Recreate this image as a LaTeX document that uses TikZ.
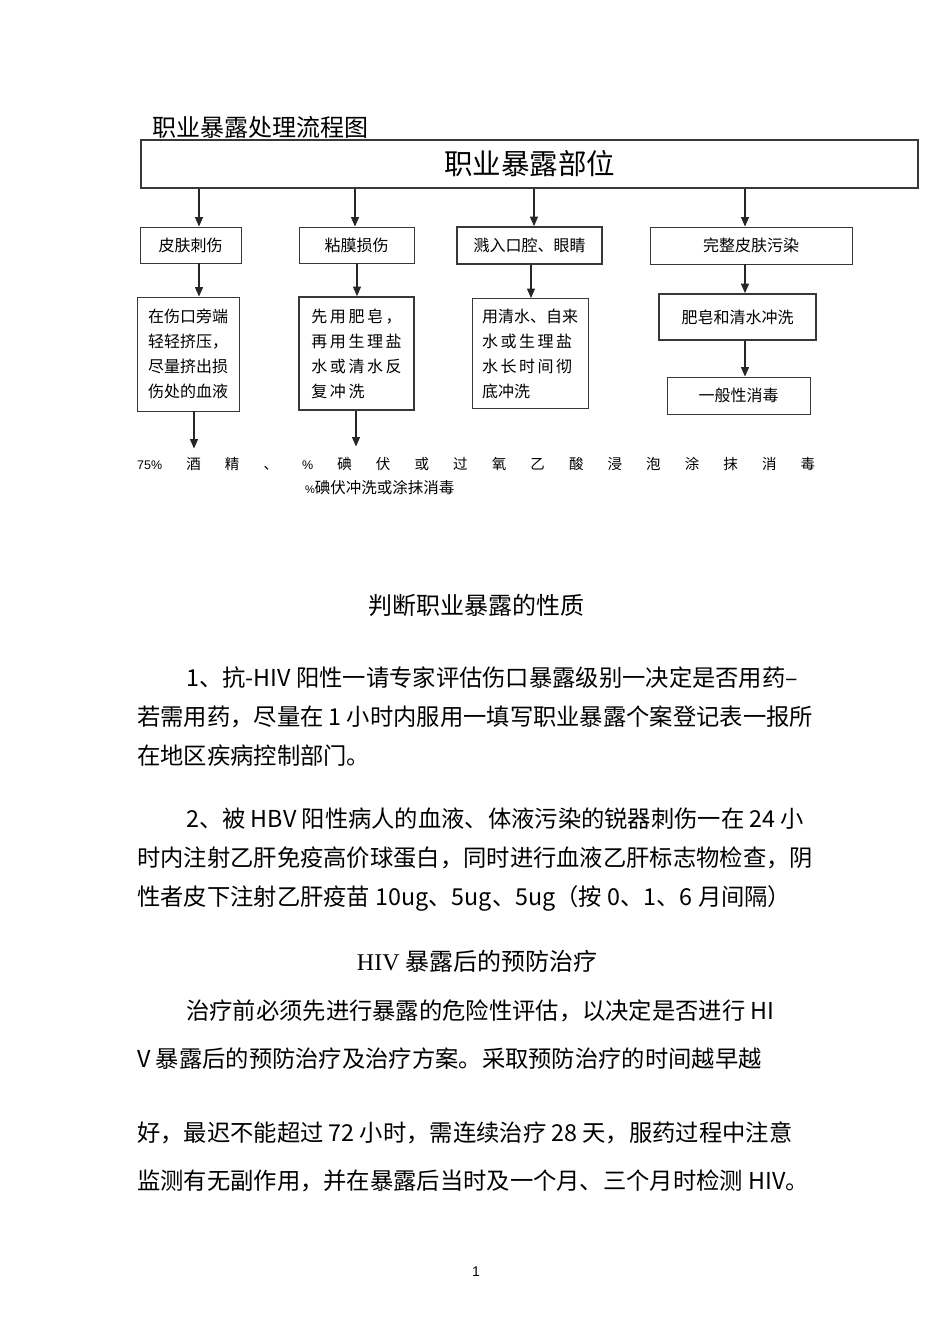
\documentclass[tikz,border=0pt]{standalone}
\usepackage{fontspec}
\setmainfont{Noto Sans CJK SC}
\newfontfamily\latinserif{Liberation Serif}
\newfontfamily\latinsans{Liberation Sans}
\newfontfamily\cjkwide[LetterSpace=16]{Noto Sans CJK SC}
\usepackage{xcolor}
\usetikzlibrary{arrows.meta}
\definecolor{boxline}{gray}{0.22}

\begin{document}
\begin{tikzpicture}[x=1pt, y=-1pt,
  box/.style={draw=boxline, line width=0.9pt, inner sep=0pt, align=center, font=\fontsize{16}{25}\selectfont},
  heavy/.style={box, line width=1.7pt},
  steps/.style={box, align=left},
  arr/.style={-{Triangle[length=9.5pt,width=8pt]}, line width=1.2pt, black!85},
  body/.style={anchor=base west, inner sep=0pt, font=\fontsize{23.3}{30}\selectfont},
  head/.style={anchor=base, inner sep=0pt, font=\fontsize{24}{30}\selectfont}
]
  \useasboundingbox (0,0) rectangle (950,1344);

  % title and top box
  \node[anchor=base west, inner sep=0pt, font=\fontsize{24}{28}\selectfont] (title) at (152,136) {职业暴露处理流程图};
  \node[box, line width=1.8pt, minimum width=777, minimum height=48, font=\fontsize{28.5}{30}\selectfont] (site) at (529.5,164) {职业暴露部位};

  % exposure types
  \node[box, minimum width=101, minimum height=36] (skin) at (190.5,245) {皮肤刺伤};
  \node[box, minimum width=115, minimum height=36] (mucosa) at (356.5,245) {粘膜损伤};
  \node[heavy, minimum width=145, minimum height=37] (splash) at (529.5,245.5) {溅入口腔、眼睛};
  \node[box, minimum width=202, minimum height=37] (intact) at (751,245.5) {完整皮肤污染};

  % first aid
  \node[steps, minimum width=102, minimum height=114] (squeeze) at (188,354) {在伤口旁端\\轻轻挤压，\\尽量挤出损\\伤处的血液};
  \node[steps, line width=1.7pt, minimum width=115, minimum height=113] (soap) at (356.5,353.5) {\cjkwide 先用肥皂，\\\cjkwide 再用生理盐\\\cjkwide 水或清水反\\\cjkwide 复冲洗};
  \node[steps, minimum width=116, minimum height=110] (rinse) at (530,353.5) {用清水、自来\\\cjkwide 水或生理盐\\\cjkwide 水长时间彻\\底冲洗};
  \node[heavy, minimum width=157, minimum height=46] (wash) at (737.5,317) {肥皂和清水冲洗};
  \node[box, minimum width=143, minimum height=37] (general) at (738.5,395.5) {一般性消毒};

  % disinfection text
  \node[anchor=base west, inner sep=0pt, font=\fontsize{14.5}{16}\selectfont] (disinfect) at (137,469)
    {\makebox[678pt]{{\latinsans\fontsize{12.5}{14}\selectfont 75\%}\hfill 酒\hfill 精\hfill 、\hfill {\latinsans\fontsize{12.5}{14}\selectfont\%}\hfill 碘\hfill 伏\hfill 或\hfill 过\hfill 氧\hfill 乙\hfill 酸\hfill 浸\hfill 泡\hfill 涂\hfill 抹\hfill 消\hfill 毒}};
  \node[anchor=base west, inner sep=0pt, font=\fontsize{15.5}{16}\selectfont] (iodine) at (305,493)
    {{\latinsans\fontsize{11}{12}\selectfont\%}碘伏冲洗或涂抹消毒};

  % arrows
  \draw[arr] ([xshift=8.5pt]skin.north |- site.south) -- ([xshift=8.5pt]skin.north);
  \draw[arr] ([xshift=-1.5pt]mucosa.north |- site.south) -- ([xshift=-1.5pt]mucosa.north);
  \draw[arr] ([xshift=4.5pt]splash.north |- site.south) -- ([xshift=4.5pt]splash.north);
  \draw[arr] ([xshift=-6pt]intact.north |- site.south) -- ([xshift=-6pt]intact.north);
  \draw[arr] ([xshift=8.5pt]skin.south) -- ([xshift=8.5pt]skin.south |- squeeze.north);
  \draw[arr] ([xshift=0.5pt]mucosa.south) -- ([xshift=0.5pt]mucosa.south |- soap.north);
  \draw[arr] ([xshift=1.5pt]splash.south) -- ([xshift=1.5pt]splash.south |- rinse.north);
  \draw[arr] ([xshift=-6pt]intact.south) -- ([xshift=-6pt]intact.south |- wash.north);
  \draw[arr] ([xshift=7.5pt]wash.south) -- ([xshift=7.5pt]wash.south |- general.north);
  \draw[arr, shorten >=8pt] ([xshift=6pt]squeeze.south) -- ([xshift=6pt]squeeze.south |- disinfect.north);
  \draw[arr, shorten >=10pt] ([xshift=-0.5pt]soap.south) -- ([xshift=-0.5pt]soap.south |- disinfect.north);

  % nature of exposure
  \node[head] (nature) at (476.5,614) {判断职业暴露的性质};
  \node[body] (p1a) at (186,686) {1、抗-HIV 阳性一请专家评估伤口暴露级别一决定是否用药–};
  \node[body] (p1b) at (137,725) {若需用药，尽量在 1 小时内服用一填写职业暴露个案登记表一报所};
  \node[body] (p1c) at (137,764) {在地区疾病控制部门。};
  \node[body] (p2a) at (186,827) {2、被 HBV 阳性病人的血液、体液污染的锐器刺伤一在 24 小};
  \node[body] (p2b) at (137,866) {时内注射乙肝免疫高价球蛋白，同时进行血液乙肝标志物检查，阴};
  \node[body] (p2c) at (137,905) {性者皮下注射乙肝疫苗 10ug、5ug、5ug（按 0、1、6 月间隔）};

  % HIV prophylaxis
  \node[head] (prophy) at (477,970) {{\latinserif HIV} 暴露后的预防治疗};
  \node[body] (p3a) at (186,1019) {治疗前必须先进行暴露的危险性评估，以决定是否进行 HI};
  \node[body] (p3b) at (137,1067) {V 暴露后的预防治疗及治疗方案。采取预防治疗的时间越早越};
  \node[body] (p3c) at (137,1141) {好，最迟不能超过 72 小时，需连续治疗 28 天，服药过程中注意};
  \node[body] (p3d) at (137,1189) {监测有无副作用，并在暴露后当时及一个月、三个月时检测 HIV。};

  \node[anchor=base, inner sep=0pt, font=\latinsans\fontsize{14}{16}\selectfont] (page) at (476,1276) {1};
\end{tikzpicture}
\end{document}
